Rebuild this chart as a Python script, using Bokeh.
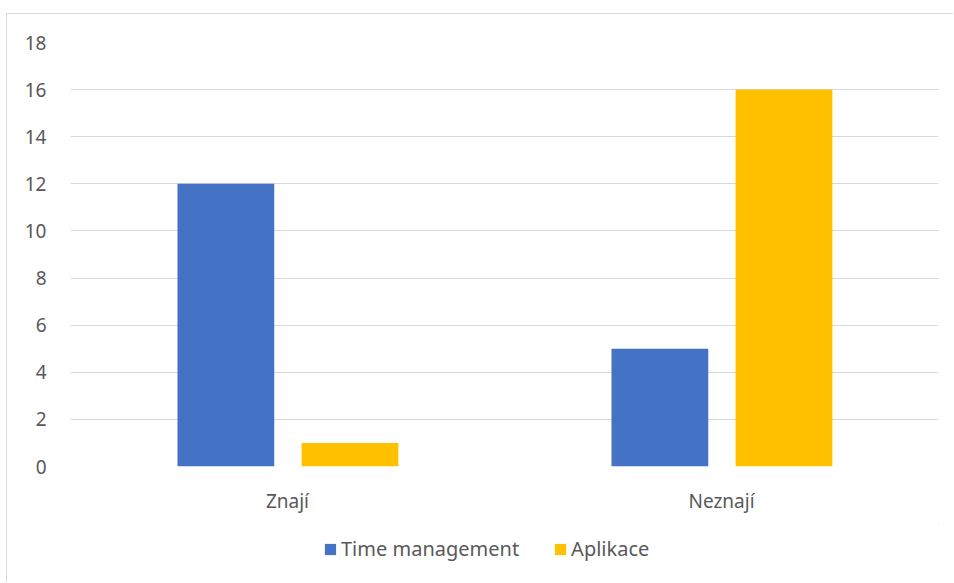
from bokeh.plotting import figure
from bokeh.models import ColumnDataSource, FactorRange, Legend, LegendItem, FixedTicker, Range1d
from bokeh.layouts import column
from bokeh.transform import dodge
from bokeh.embed import file_html
from bokeh.resources import INLINE

categories = ["Znají", "Neznají"]
time_management = [12, 5]
aplikace = [1, 16]
series_names = ["Time management", "Aplikace"]
colors = ["#4472C4", "#FFC000"]
y_ticks = [0, 2, 4, 6, 8, 10, 12, 14, 16, 18]

src = ColumnDataSource(dict(cat=categories, tm=time_management, ap=aplikace))

FONT = "Noto Sans"
TXT = "#595959"
p = figure(width=946, height=510, x_range=FactorRange(*categories, range_padding=0),
           y_range=(0, 18), output_backend="svg", toolbar_location=None,
           min_border_left=63, min_border_right=15, min_border_top=28, min_border_bottom=58)
p.outline_line_color = None
p.background_fill_color = "white"
p.border_fill_color = "white"

r1 = p.vbar(x=dodge("cat", -0.142, range=p.x_range), top="tm", width=0.223, source=src,
            fill_color=colors[0], line_color=None)
r2 = p.vbar(x=dodge("cat", 0.144, range=p.x_range), top="ap", width=0.223, source=src,
            fill_color=colors[1], line_color=None)

p.yaxis.ticker = FixedTicker(ticks=y_ticks)
for ax in (p.xaxis, p.yaxis):
    ax.axis_line_color = None
    ax.major_tick_line_color = None
    ax.minor_tick_line_color = None
    ax.major_label_text_font = FONT
    ax.major_label_text_font_size = "19px"
    ax.major_label_text_color = TXT
p.yaxis.major_label_standoff = 18
p.xaxis.major_label_standoff = 15
p.xgrid.grid_line_color = None
p.ygrid.grid_line_color = "#D9D9D9"
p.ygrid.grid_line_width = 1

# legend strip below the chart (its renderers share the data but lie far outside its view)
lg = figure(width=946, height=58, output_backend="svg", toolbar_location=None,
            x_range=Range1d(-1000, -999), y_range=Range1d(-1000, -999),
            min_border_left=0, min_border_right=0, min_border_top=0, min_border_bottom=0)
lg.axis.visible = False
lg.grid.visible = False
lg.outline_line_color = None
lg.border_fill_color = "white"
l1 = lg.vbar(x="tm", top="tm", width=0.2, source=src, fill_color=colors[0], line_color=None)
l2 = lg.vbar(x="ap", top="ap", width=0.2, source=src, fill_color=colors[1], line_color=None)
legend = Legend(items=[LegendItem(label=series_names[0], renderers=[l1]),
                       LegendItem(label=series_names[1], renderers=[l2])],
                orientation="horizontal", location=(253, 20),
                label_text_font=FONT, label_text_font_size="20px", label_text_color=TXT,
                glyph_width=14, glyph_height=14, spacing=34, border_line_color=None,
                background_fill_alpha=0, margin=0, padding=0, label_standoff=4)
lg.add_layout(legend)

layout = column(p, lg, spacing=0,
                styles={"margin-left": "6px", "margin-top": "13px",
                        "border-top": "1px solid #D9D9D9", "border-left": "1px solid #D9D9D9"})

open("out.html", "w").write(file_html(layout, INLINE))
